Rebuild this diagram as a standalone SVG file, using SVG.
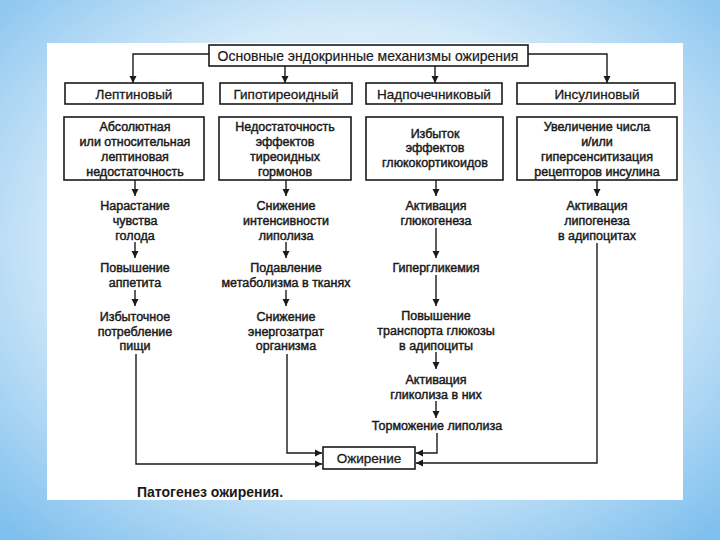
<svg xmlns="http://www.w3.org/2000/svg" width="720" height="540" viewBox="0 0 720 540">
<defs>
<radialGradient id="bg" cx="50%" cy="45%" r="72%">
<stop offset="0" stop-color="#f2f9fe"/>
<stop offset="0.55" stop-color="#d6ebf9"/>
<stop offset="1" stop-color="#80c0ee"/>
</radialGradient>
<marker id="ah" viewBox="0 0 10 10" refX="10" refY="5" markerWidth="7" markerHeight="8" markerUnits="userSpaceOnUse" orient="auto">
<path d="M0,0 L10,5 L0,10 z" fill="#1a1a1a"/>
</marker>
<style>
.box{fill:#fff;stroke:#1a1a1a;stroke-width:1.6}
.ln{fill:none;stroke:#1a1a1a;stroke-width:1.4}
.ar{fill:none;stroke:#1a1a1a;stroke-width:1.4;marker-end:url(#ah)}
text{font-family:"Liberation Sans",Arial,sans-serif;fill:#1a1a1a;text-anchor:middle}
.t{font-size:14px;stroke:#1a1a1a;stroke-width:0.2}
.h{font-size:13.5px;stroke:#1a1a1a;stroke-width:0.3}
.b{font-size:12.5px;stroke:#1a1a1a;stroke-width:0.45}
.cap{font-size:14px;font-weight:bold;text-anchor:start}
</style>
</defs>
<rect width="720" height="540" fill="url(#bg)"/>
<rect x="47" y="43" width="636" height="457" fill="#fff"/>

<g id="connectors">
<path class="ar" d="M209,54 H133 V83"/>
<path class="ar" d="M528,54 H607 V83"/>
<path class="ar" d="M285,66 V83"/>
<path class="ar" d="M435,66 V83"/>
<path class="ar" d="M135,180 V196"/>
<path class="ar" d="M135,242 V258"/>
<path class="ar" d="M135,290 V306"/>
<path class="ar" d="M136,354 V464 H322"/>
<path class="ar" d="M286,180 V196"/>
<path class="ar" d="M286,242 V258"/>
<path class="ar" d="M286,290 V306"/>
<path class="ar" d="M287,354 V453 H322"/>
<path class="ar" d="M436,180 V196"/>
<path class="ar" d="M436,228 V258"/>
<path class="ar" d="M436,275 V306"/>
<path class="ar" d="M436,352 V369"/>
<path class="ar" d="M436,401 V418"/>
<path class="ar" d="M437,433 V453 H416"/>
<path class="ar" d="M597,180 V196"/>
<path class="ar" d="M597,243 V463 H416"/>
</g>

<g id="title">
<rect class="box" x="209" y="45" width="319" height="21"/>
<text class="t" x="368" y="60.5">Основные эндокринные механизмы ожирения</text>
</g>

<g id="leptin">
<rect class="box" x="65" y="83" width="138" height="21"/>
<text class="h" x="134" y="98.5">Лептиновый</text>
</g>
<g id="hypothyroid">
<rect class="box" x="220" y="83" width="132" height="21"/>
<text class="h" x="286" y="98.5">Гипотиреоидный</text>
</g>
<g id="adrenal">
<rect class="box" x="366" y="83" width="136" height="21"/>
<text class="h" x="434" y="98.5">Надпочечниковый</text>
</g>
<g id="insulin">
<rect class="box" x="517" y="83" width="158" height="21"/>
<text class="h" x="597" y="98.5">Инсулиновый</text>
</g>

<g id="c1box">
<rect class="box" x="64" y="117" width="140" height="63"/>
<text class="b" x="135" y="131">Абсолютная</text>
<text class="b" x="135" y="146">или относительная</text>
<text class="b" x="135" y="161">лептиновая</text>
<text class="b" x="135" y="176">недостаточность</text>
</g>
<g id="c2box">
<rect class="box" x="219" y="117" width="132" height="63"/>
<text class="b" x="285" y="131">Недостаточность</text>
<text class="b" x="285" y="146">эффектов</text>
<text class="b" x="285" y="161">тиреоидных</text>
<text class="b" x="285" y="176">гормонов</text>
</g>
<g id="c3box">
<rect class="box" x="366" y="117" width="137" height="63"/>
<text class="b" x="435" y="138">Избыток</text>
<text class="b" x="435" y="152">эффектов</text>
<text class="b" x="435" y="167">глюкокортикоидов</text>
</g>
<g id="c4box">
<rect class="box" x="517" y="117" width="160" height="63"/>
<text class="b" x="597" y="131">Увеличение числа</text>
<text class="b" x="597" y="146">и/или</text>
<text class="b" x="597" y="161">гиперсенситизация</text>
<text class="b" x="597" y="176">рецепторов инсулина</text>
</g>

<g id="c1n1"><text class="b" x="135" y="210">Нарастание</text><text class="b" x="135" y="225">чувства</text><text class="b" x="135" y="240">голода</text></g>
<g id="c1n2"><text class="b" x="135" y="272">Повышение</text><text class="b" x="135" y="287">аппетита</text></g>
<g id="c1n3"><text class="b" x="135" y="321">Избыточное</text><text class="b" x="135" y="336">потребление</text><text class="b" x="135" y="350">пищи</text></g>

<g id="c2n1"><text class="b" x="286" y="210">Снижение</text><text class="b" x="286" y="225">интенсивности</text><text class="b" x="286" y="240">липолиза</text></g>
<g id="c2n2"><text class="b" x="286" y="272">Подавление</text><text class="b" x="286" y="287">метаболизма в тканях</text></g>
<g id="c2n3"><text class="b" x="286" y="321">Снижение</text><text class="b" x="286" y="336">энергозатрат</text><text class="b" x="286" y="350">организма</text></g>

<g id="c3n1"><text class="b" x="436" y="210">Активация</text><text class="b" x="436" y="225">глюкогенеза</text></g>
<g id="c3n2"><text class="b" x="436" y="272">Гипергликемия</text></g>
<g id="c3n3"><text class="b" x="436" y="320">Повышение</text><text class="b" x="436" y="335">транспорта глюкозы</text><text class="b" x="436" y="350">в адипоциты</text></g>
<g id="c3n4"><text class="b" x="436" y="384">Активация</text><text class="b" x="436" y="399">гликолиза в них</text></g>
<g id="c3n5"><text class="b" x="437" y="430">Торможение липолиза</text></g>

<g id="c4n1"><text class="b" x="597" y="210">Активация</text><text class="b" x="597" y="225">липогенеза</text><text class="b" x="597" y="240">в адипоцитах</text></g>

<g id="obesity">
<rect class="box" x="323" y="447" width="92" height="22"/>
<text class="h" x="369" y="462.5">Ожирение</text>
</g>

<text class="cap" x="137" y="497">Патогенез ожирения.</text>
</svg>
